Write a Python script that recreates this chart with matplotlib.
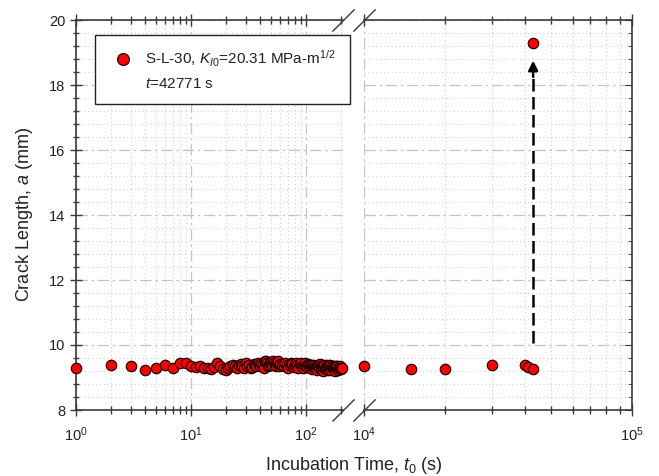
import matplotlib
matplotlib.use('Agg')
import matplotlib.pyplot as plt
from matplotlib.lines import Line2D
from matplotlib.ticker import LogLocator, MultipleLocator, NullFormatter
import numpy as np

plt.rcParams['font.family'] = ['Liberation Sans', 'DejaVu Sans']
plt.rcParams['mathtext.fontset'] = 'custom'
plt.rcParams['mathtext.rm'] = 'Liberation Sans'
plt.rcParams['mathtext.it'] = 'Liberation Sans:italic'

# Данные: время инкубации (с) и длина трещины (мм), левая часть оси
t_left = [1, 2, 3, 4, 5, 6, 7, 8, 9, 10, 11, 12, 13, 14, 15, 16, 17, 18, 19, 20,
          21, 22, 23, 24, 25, 26, 27, 28, 29, 30, 31, 32, 33, 34, 35, 36, 37, 38,
          39, 40, 41, 42, 43, 44, 45, 46, 47, 48, 49, 50, 51, 52, 53, 54, 55, 56,
          57, 58, 59, 60,
          62, 64, 66, 68, 70, 72, 74, 76, 78, 80, 82, 84, 86, 88, 90, 92, 94, 96, 98, 100,
          102, 104, 106, 108, 110, 112, 114, 116, 118, 120, 122, 124, 126, 128, 130,
          132, 134, 136, 138, 140, 142, 144, 146, 148, 150, 152, 154, 156, 158, 160,
          162, 164, 166, 168, 170, 172, 174, 176, 178, 180, 182, 184, 186, 188, 190,
          192, 194, 196, 198, 200, 205]
a_left = [9.30, 9.37, 9.36, 9.23, 9.30, 9.37, 9.29, 9.44, 9.45, 9.34, 9.33, 9.36,
          9.30, 9.28, 9.26, 9.32, 9.45, 9.35, 9.26, 9.22, 9.30, 9.34, 9.38, 9.36,
          9.28, 9.38, 9.42, 9.35, 9.30, 9.44,
          9.36, 9.38, 9.30, 9.32, 9.42, 9.40, 9.34, 9.46, 9.38, 9.35, 9.44, 9.42,
          9.30, 9.50, 9.52, 9.44, 9.36, 9.38, 9.46, 9.48, 9.40, 9.52, 9.45, 9.40,
          9.34, 9.45, 9.50, 9.36, 9.42, 9.42,
          9.38, 9.35, 9.44, 9.40, 9.30, 9.40, 9.46, 9.43, 9.33, 9.38, 9.45, 9.40,
          9.30, 9.42, 9.45, 9.36, 9.28, 9.40, 9.44, 9.35,
          9.32, 9.42, 9.38, 9.30, 9.38, 9.25, 9.36, 9.40, 9.33, 9.36, 9.28, 9.22,
          9.38, 9.34, 9.30, 9.42, 9.36, 9.28, 9.35, 9.20,
          9.33, 9.38, 9.30, 9.26, 9.32, 9.40, 9.35, 9.24, 9.30, 9.35, 9.38, 9.28,
          9.22, 9.33, 9.36, 9.30, 9.26, 9.35, 9.32, 9.20,
          9.30, 9.34, 9.28, 9.36, 9.24, 9.32, 9.28, 9.34, 9.30, 9.26, 9.30]

# правая часть оси
t_right = [10000, 15000, 20000, 30000, 40000, 41000, 42771, 42771]
a_right = [9.36, 9.27, 9.27, 9.38, 9.38, 9.33, 9.25, 19.30]

# стрелка
t_final = 42771
arrow_from = 10.05
arrow_to = 18.75

x_left_lim = (1, 210)
x_right_lim = (1e4, 1e5)
y_lim = (8, 20)

fig = plt.figure(figsize=(6.59, 4.76), dpi=100)
ax1 = fig.add_axes([76 / 659, 66 / 476, 267 / 659, 390 / 476])
ax2 = fig.add_axes([364 / 659, 66 / 476, 268 / 659, 390 / 476])

mk = dict(s=56, facecolor='#ff0000', edgecolor='#220000', linewidths=0.9, zorder=3, clip_on=False)
ax1.scatter(t_left, a_left, **mk)
ax2.scatter(t_right, a_right, **mk)

ax2.plot([t_final, t_final], [arrow_from, arrow_to - 0.4], color='black', lw=1.8,
         linestyle=(0, (5, 2.2)), zorder=2)
ax2.annotate('', xy=(t_final, arrow_to), xytext=(t_final, arrow_to - 0.5),
             arrowprops=dict(arrowstyle='-|>', color='black', lw=1.8,
                             mutation_scale=14, shrinkA=0, shrinkB=0), zorder=2)

for ax, xl in ((ax1, x_left_lim), (ax2, x_right_lim)):
    ax.set_xscale('log')
    ax.set_xlim(*xl)
    ax.set_ylim(*y_lim)
    ax.xaxis.set_major_locator(LogLocator(base=10, numticks=10))
    ax.xaxis.set_minor_locator(LogLocator(base=10, subs=np.arange(2, 10), numticks=10))
    ax.xaxis.set_minor_formatter(NullFormatter())
    ax.yaxis.set_major_locator(MultipleLocator(2))
    ax.yaxis.set_minor_locator(MultipleLocator(0.4))
    ax.grid(which='major', color='#c4c4c4', lw=0.9, linestyle=(0, (9, 3, 2, 3)))
    ax.grid(which='minor', color='#d0d0d0', lw=0.8, linestyle=(0, (1, 2.5)))
    ax.set_axisbelow(True)
    for s in ax.spines.values():
        s.set_color('#3a3a3a')
        s.set_linewidth(1.2)
    ax.tick_params(axis='both', which='both', colors='#3a3a3a', labelcolor='#222222',
                   labelsize=10.5)
    ax.tick_params(axis='x', which='major', length=8, width=1, top=True, direction='inout', pad=7)
    ax.tick_params(axis='x', which='minor', length=6, width=1, top=True, direction='inout')

ax1.spines['right'].set_visible(False)
ax2.spines['left'].set_visible(False)
ax1.tick_params(axis='y', which='major', length=8, width=1, direction='inout', right=False)
ax1.tick_params(axis='y', which='minor', length=5, width=1, direction='inout', right=False)
ax2.tick_params(axis='y', which='both', left=False, labelleft=False, right=True, direction='in')
ax2.tick_params(axis='y', which='major', length=5)
ax2.tick_params(axis='y', which='minor', length=3)

# значки разрыва оси
brk = dict(marker=[(-1, -1), (1, 1)], markersize=16, linestyle='none', color='#3a3a3a',
           mec='#3a3a3a', mew=1, clip_on=False)
ax1.plot([1, 1], [0, 1], transform=ax1.transAxes, **brk)
ax2.plot([0, 0], [0, 1], transform=ax2.transAxes, **brk)

ax1.set_ylabel('Crack Length, $a$ (mm)', fontsize=13, color='#222222', labelpad=10)
fig.text(354 / 659, 1 - 465 / 476, r'Incubation Time, $t_{\mathit{0}}$ (s)', fontsize=13,
         color='#222222', ha='center', va='center')

h1 = Line2D([], [], linestyle='none', marker='o', markersize=8.5, markerfacecolor='#ff0000',
            markeredgecolor='#220000', markeredgewidth=0.9)
h2 = Line2D([], [], linestyle='none')
leg = fig.legend([h1, h2], [r'S-L-30, $K_{I0}$=20.31 MPa-m$^{1/2}$', r'$t$=42771 s'],
                 loc='upper left', bbox_to_anchor=(95 / 659, 1 - 35 / 476), fontsize=11,
                 frameon=True, fancybox=False, framealpha=1, edgecolor='#222222',
                 borderpad=0.9, handletextpad=0.6, handlelength=1.8, labelspacing=0.5,
                 borderaxespad=0)
leg.get_frame().set_linewidth(1.0)
for txt in leg.get_texts():
    txt.set_color('#222222')

fig.savefig('out.png', dpi=100)
